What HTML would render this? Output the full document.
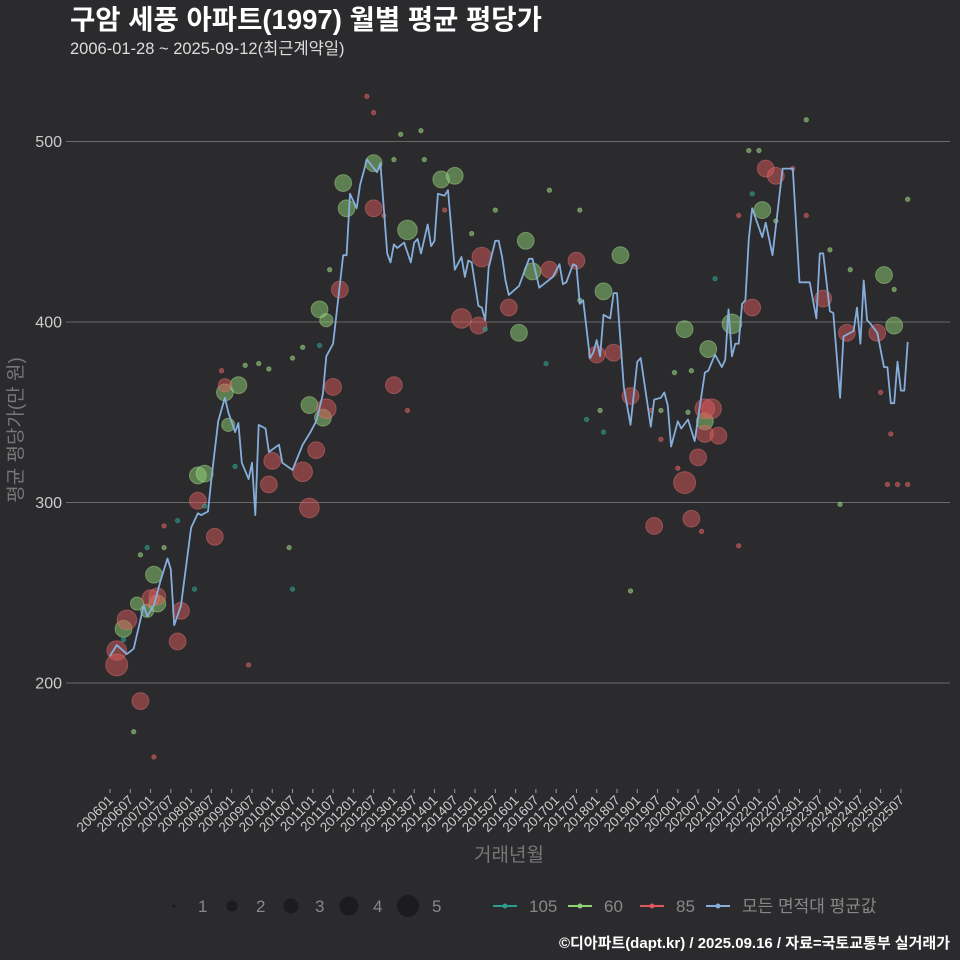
<!DOCTYPE html>
<html><head><meta charset="utf-8">
<style>
body{margin:0;background:#2b2a2d;}
svg{display:block;font-family:"Liberation Sans","Noto Sans CJK KR",sans-serif;}
</style></head>
<body>
<svg id="chart" width="960" height="960" viewBox="0 0 960 960" xmlns="http://www.w3.org/2000/svg">
<rect width="960" height="960" fill="#2b2a2d"/>
<text x="70" y="29" fill="#ffffff" font-size="27.5" font-weight="bold">구암 세풍 아파트(1997) 월별 평균 평당가</text>
<text x="70" y="54" fill="#dddddd" font-size="16.5">2006-01-28 ~ 2025-09-12(최근계약일)</text>
<g id="grid"></g>
<g id="yticks"></g>
<g id="xticks"></g>
<g id="points"></g>
<g id="avgline"></g>
<text transform="translate(22,430) rotate(-90)" text-anchor="middle" fill="#777777" font-size="19">평균 평당가(만 원)</text>
<text x="509" y="861" text-anchor="middle" fill="#777777" font-size="19">거래년월</text>
<g id="legend"></g>
<text x="950" y="948" text-anchor="end" fill="#ffffff" font-size="15" font-weight="bold">©디아파트(dapt.kr) / 2025.09.16 / 자료=국토교통부 실거래가</text>
</svg>
<script>
const yTicks=[200,300,400,500];
const xTickLabels=[];
for(let y=2006;y<=2025;y++){xTickLabels.push(y+"01");xTickLabels.push(y+"07");}
const lineMonths=[0,2,5,7,9,10,11,13,15,17,18,19,21,24,26,27,29,30,32,34,35,37,38,39,41,42,43,44,46,47,50,51,54,57,59,61,63,64,66,69,70,71,73,74,76,79,80,82,83,84,85,87,89,90,91,92,94,95,96,97,99,100,102,104,105,106,107,109,110,111,112,114,115,116,117,118,121,122,124,125,127,129,131,133,134,135,137,138,139,140,142,143,144,145,146,148,149,150,152,154,156,157,160,161,163,164,165,166,168,169,171,173,174,176,177,179,181,182,183,184,185,186,187,188,189,190,193,194,196,199,202,204,207,209,210,211,213,214,216,217,220,221,222,223,224,225,227,229,230,231,232,233,234,235,236];
const lineValues=[215,221,216,219,235,243,237,243,257,269,263,232,243,286,294,293,295,313,345,358,350,339,344,322,313,322,293,343,341,328,332,322,318,332,338,345,360,381,388,437,437,471,463,476,490,483,488,438,433,443,441,444,433,444,446,438,454,442,445,471,470,473,429,436,425,434,433,409,408,401,430,445,445,436,423,415,420,425,435,435,419,422,425,432,421,422,432,431,410,412,380,383,390,381,404,402,416,416,364,343,378,380,342,357,358,361,354,331,345,341,346,334,347,372,373,382,375,379,407,381,388,388,410,412,446,463,447,455,437,485,485,422,422,402,438,438,406,405,358,392,395,408,388,423,401,399,394,375,375,355,355,378,362,362,389];
// scatter: month, value, count, type
const ptMonth=[4,8,11,14,13,26,28,34,38,35,59,63,64,62,69,70,78,88,98,102,123,125,121,146,151,170,177,184,193,176,229,232,
2,2,5,9,14,12,20,21,31,26,34,47,48,57,59,61,64,66,68,78,84,104,110,109,118,130,138,144,149,154,161,170,172,174,176,178,180,176,190,194,197,211,227,218,
13,41,16,33,76,78,81,88,99,230,233,236,231,228,206,202,186,186,175,168,163,160,
7,9,16,40,44,47,54,57,53,65,86,92,93,84,114,107,130,139,145,139,154,163,167,171,172,189,192,197,213,206,216,236,232,219,
4,11,20,25,28,37,54,62,111,129,141,146,179,190];
const ptValue=[230,244,240,244,260,315,316,361,365,343,354,347,401,407,477,463,488,451,479,481,445,428,394,417,437,396,385,399,462,345,426,398,
218,210,235,190,248,247,223,240,281,301,365,310,323,317,297,329,352,364,418,463,365,402,436,398,408,429,434,382,383,359,287,311,291,325,352,352,337,338,408,485,481,413,394,394,
159,210,287,373,525,516,459,351,462,310,310,310,338,361,459,485,459,276,284,319,335,351,
173,271,275,376,377,374,380,386,275,429,504,506,490,490,462,449,473,462,351,412,251,351,372,350,373,495,495,456,440,512,299,468,418,429,
224,275,290,252,298,320,252,387,396,377,346,339,424,471];
const ptCount=[3,2,2,3,3,3,3,3,3,2,3,3,2,3,3,3,3,4,3,3,3,3,3,3,3,3,3,4,3,3,3,3,
4,5,4,3,3,3,3,3,3,3,2,3,3,4,4,3,4,3,3,3,3,4,4,3,3,3,3,3,3,3,3,5,3,3,4,4,3,3,3,3,3,3,3,3,
1,1,1,1,1,1,1,1,1,1,1,1,1,1,1,1,1,1,1,1,1,1,
1,1,1,1,1,1,1,1,1,1,1,1,1,1,1,1,1,1,1,1,1,1,1,1,1,1,1,1,1,1,1,1,1,1,
1,1,1,1,1,1,1,1,1,1,1,1,1,1];
const ptType=[];
for(let i=0;i<32;i++)ptType.push("60");
for(let i=0;i<44;i++)ptType.push("85");
for(let i=0;i<22;i++)ptType.push("85");
for(let i=0;i<34;i++)ptType.push("60");
for(let i=0;i<14;i++)ptType.push("105");

const NS="http://www.w3.org/2000/svg";
const X0=110,DX=3.38,Y200=683,PPU=1.805;
function xs(m){return X0+m*DX;}
function ys(v){return Y200-(v-200)*PPU;}
function rs(c){return 2.2+Math.sqrt(c-1)*4.4;}
function mk(tag,attrs,parent){const e=document.createElementNS(NS,tag);for(const k in attrs)e.setAttribute(k,attrs[k]);parent.appendChild(e);return e;}
const grid=document.getElementById('grid'),yt=document.getElementById('yticks'),xt=document.getElementById('xticks');
yTicks.forEach(v=>{
 const l=mk('line',{x1:66,x2:950,y1:ys(v),y2:ys(v),stroke:'#6a6a6a','stroke-width':1},grid);
 
 
 const t=mk('text',{x:62,y:ys(v)+5.5,'text-anchor':'end',fill:'#cccccc','font-size':16},yt);
 t.textContent=v;
 
 
});
xTickLabels.forEach((lab,i)=>{
 const x=xs(i*6);
 const tk=mk('line',{x1:x,x2:x,y1:789,y2:793,stroke:'#999','stroke-width':1},xt);
 
 
 const t=mk('text',{x:x+4,y:801,'text-anchor':'end',fill:'#cccccc','font-size':13.5,transform:'rotate(-45 '+(x+4)+' 801)'},xt);
 t.textContent=lab;
 
 
});
const colors={"105":["#2a9d8f","#3fb8a8"],"60":["#8fd175","#b5f09a"],"85":["#d9595c","#f07b7b"]};
const pts=document.getElementById('points');
ptMonth.forEach((m,i)=>{
 const c=colors[ptType[i]];
 const big=ptCount[i]>1;
 const e=mk('circle',{cx:xs(m),cy:ys(ptValue[i]),r:rs(ptCount[i]),fill:c[0],'fill-opacity':big?0.5:0.6,stroke:c[1],'stroke-opacity':0.4,'stroke-width':1},pts);
 
 
});
let d='';
lineMonths.forEach((m,i)=>{d+=(i?'L':'M')+xs(m).toFixed(1)+' '+ys(lineValues[i]).toFixed(1);});
const pl=mk('path',{d:d,fill:'none',stroke:'#86aedb','stroke-width':1.8,'stroke-linejoin':'round'},document.getElementById('avgline'));


const lg=document.getElementById('legend');
const sizeX=[174,232,291,349,408];
sizeX.forEach((x,i)=>{
 const c=mk('circle',{cx:x,cy:906,r:[1.5,5.5,7.5,9.5,11][i],fill:'#1c1c1e'},lg);
 
 
 const t=mk('text',{x:x+24,y:912,fill:'#888888','font-size':17},lg);
 t.textContent=(i+1);
 
 
});
const lgItems=[["105","#2a9d8f",505],["60","#8fd175",580],["85","#d9595c",652],["모든 면적대 평균값","#86aedb",718]];
lgItems.forEach(it=>{
 const g=mk('g',{},lg);
 
 
 mk('line',{x1:it[2]-12,x2:it[2]+12,y1:906,y2:906,stroke:it[1],'stroke-width':2},g);
 mk('circle',{cx:it[2],cy:906,r:2.5,fill:it[1]},g);
 const t=mk('text',{x:it[2]+24,y:912,fill:'#888888','font-size':17},g);
 t.textContent=it[0];
});
</script>
</body></html>
